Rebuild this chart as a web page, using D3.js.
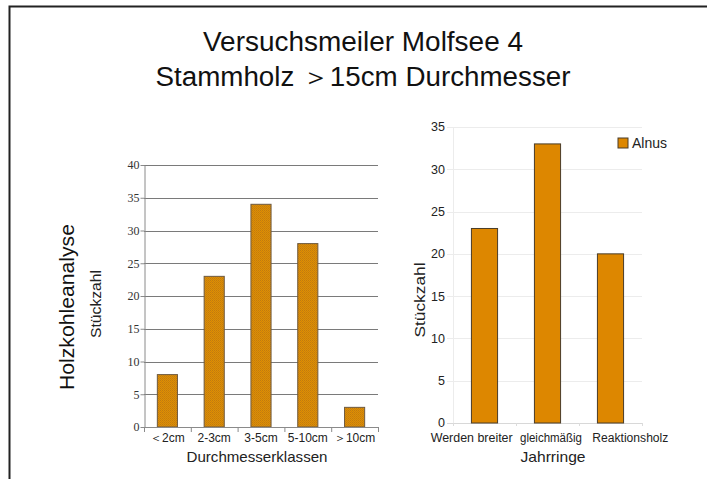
<!DOCTYPE html>
<html>
<head>
<meta charset="utf-8">
<script src="https://cdn.jsdelivr.net/npm/d3@7"></script>
<style>
	body { margin: 0; background: #fff; }
	svg { display: block; }
</style>
</head>
<body>
<div id="chart"></div>
<script>
// Data
const titleLines = ['Versuchsmeiler Molfsee 4', 'Stammholz \uFF1E15cm Durchmesser'];
const diamClasses = ['\uFF1C2cm', '2-3cm', '3-5cm', '5-10cm', '\uFF1E10cm'];
const diamCounts = [8, 23, 34, 28, 3];
const diamTicks = [0, 5, 10, 15, 20, 25, 30, 35, 40];
const ringClasses = ['Werden breiter', 'gleichmäßig', 'Reaktionsholz'];
const ringCounts = [23, 33, 20];
const ringTicks = [0, 5, 10, 15, 20, 25, 30, 35];
const seriesName = 'Alnus';

const width = 707;
const height = 479;
const sans = 'Liberation Sans, Arial, sans-serif';
const serif = 'Liberation Serif, Times New Roman, serif';

const svg = d3.select('#chart')
	.append('svg')
	.attr('width', width)
	.attr('height', height);

// squeeze text to the narrow widths of the original
function fit(sel, len) {
	sel.attr('textLength', len).attr('lengthAdjust', 'spacingAndGlyphs');
}

// dithered orange fill used on the left chart
const defs = svg.append('defs');
const pat = defs.append('pattern')
	.attr('id', 'dither')
	.attr('width', 2)
	.attr('height', 2)
	.attr('patternUnits', 'userSpaceOnUse');
pat.append('rect').attr('width', 2).attr('height', 2).attr('fill', '#e09000');
pat.append('rect').attr('width', 1).attr('height', 1).attr('fill', '#c07a10');
pat.append('rect').attr('x', 1).attr('y', 1).attr('width', 1).attr('height', 1).attr('fill', '#c88010');

// frame (left and top edge only)
svg.append('path')
	.attr('d', 'M9.5,479 V6.5 H707')
	.attr('fill', 'none')
	.attr('stroke', '#222')
	.attr('stroke-width', 2);

// titles
const titleWidths = [320, 415];
svg.selectAll('text.title')
	.data(titleLines)
	.enter()
	.append('text')
	.attr('class', 'title')
	.attr('x', 363)
	.attr('y', (d, i) => 51 + i * 35)
	.attr('text-anchor', 'middle')
	.style('font-family', sans)
	.style('font-size', '27px')
	.attr('fill', '#111')
	.attr('textLength', (d, i) => titleWidths[i])
	.attr('lengthAdjust', 'spacingAndGlyphs')
	.text((d) => d);

svg.append('text')
	.attr('transform', 'translate(74,307) rotate(-90)')
	.attr('text-anchor', 'middle')
	.style('font-family', sans)
	.style('font-size', '21px')
	.attr('fill', '#111')
	.call(fit, 166)
	.text('Holzkohleanalyse');

// ---------- left chart ----------
const x1 = d3.scaleBand()
	.domain(diamClasses)
	.range([144, 378])
	.paddingInner(0.57)
	.paddingOuter(0.285);
const y1 = d3.scaleLinear().domain([0, 40]).range([427, 165]);

const g1 = svg.append('g');

g1.selectAll('line.grid')
	.data(diamTicks.filter((d) => d > 0))
	.enter()
	.append('line')
	.attr('x1', 144)
	.attr('x2', 378)
	.attr('y1', (d) => Math.round(y1(d)) + 0.5)
	.attr('y2', (d) => Math.round(y1(d)) + 0.5)
	.attr('stroke', '#7a7a7a')
	.attr('stroke-width', 1);

const yAxis1 = g1.append('g')
	.attr('transform', 'translate(144.5,0)')
	.call(d3.axisLeft(y1).tickValues(diamTicks).tickSize(4).tickSizeOuter(0));
yAxis1.select('.domain').attr('stroke', '#8a8a8a');
yAxis1.selectAll('.tick line').attr('stroke', '#8a8a8a');
yAxis1.selectAll('text')
	.style('font-family', serif)
	.style('font-size', '12px')
	.attr('fill', '#333')
	.attr('x', -5);

g1.selectAll('rect.bar')
	.data(diamCounts)
	.enter()
	.append('rect')
	.attr('x', (d, i) => x1(diamClasses[i]))
	.attr('y', (d) => y1(d))
	.attr('width', x1.bandwidth())
	.attr('height', (d) => y1(0) - y1(d))
	.attr('fill', 'url(#dither)')
	.attr('stroke', '#6e5a40')
	.attr('stroke-width', 1);

// x axis baseline with ticks at band edges
g1.append('line')
	.attr('x1', 144).attr('x2', 378)
	.attr('y1', 427.5).attr('y2', 427.5)
	.attr('stroke', '#8a8a8a');
g1.selectAll('line.xtick')
	.data(d3.range(diamClasses.length + 1))
	.enter()
	.append('line')
	.attr('x1', (d) => 144.5 + d * x1.step())
	.attr('x2', (d) => 144.5 + d * x1.step())
	.attr('y1', 427)
	.attr('y2', 432)
	.attr('stroke', '#8a8a8a');

g1.selectAll('text.cat')
	.data(diamClasses)
	.enter()
	.append('text')
	.attr('x', (d) => x1(d) + x1.bandwidth() / 2)
	.attr('y', 442)
	.attr('text-anchor', 'middle')
	.style('font-family', sans)
	.style('font-size', '12px')
	.attr('fill', '#222')
	.text((d) => d);

g1.append('text')
	.attr('x', 257)
	.attr('y', 462)
	.attr('text-anchor', 'middle')
	.style('font-family', sans)
	.style('font-size', '14.5px')
	.attr('fill', '#222')
	.call(fit, 141)
	.text('Durchmesserklassen');

g1.append('text')
	.attr('transform', 'translate(101,304) rotate(-90)')
	.attr('text-anchor', 'middle')
	.style('font-family', sans)
	.style('font-size', '14px')
	.attr('fill', '#222')
	.call(fit, 68)
	.text('Stückzahl');

// ---------- right chart ----------
const x2 = d3.scaleBand()
	.domain(ringClasses)
	.range([453, 642])
	.paddingInner(0.585)
	.paddingOuter(0.2925);
// category labels are spread wider than the bars
const x2lab = d3.scaleBand()
	.domain(ringClasses)
	.range([432, 670]);
const ringLabelWidths = [82, 62, 76];
const y2 = d3.scaleLinear().domain([0, 35]).range([423, 127]);

const g2 = svg.append('g');

g2.selectAll('line.grid')
	.data(ringTicks)
	.enter()
	.append('line')
	.attr('x1', 447)
	.attr('x2', 642)
	.attr('y1', (d) => Math.round(y2(d)) + 0.5)
	.attr('y2', (d) => Math.round(y2(d)) + 0.5)
	.attr('stroke', (d) => (d === 0 ? '#d8d8d8' : '#ececec'))
	.attr('stroke-width', 1);

g2.append('line')
	.attr('x1', 453.5).attr('x2', 453.5)
	.attr('y1', 127).attr('y2', 423)
	.attr('stroke', '#ececec');

g2.selectAll('line.xtick')
	.data(d3.range(ringClasses.length + 1))
	.enter()
	.append('line')
	.attr('x1', (d) => 453.5 + d * x2.step())
	.attr('x2', (d) => 453.5 + d * x2.step())
	.attr('y1', 423)
	.attr('y2', 426)
	.attr('stroke', '#dcdcdc');

g2.selectAll('text.ytick')
	.data(ringTicks)
	.enter()
	.append('text')
	.attr('x', 445)
	.attr('y', (d) => y2(d))
	.attr('dy', '0.35em')
	.attr('text-anchor', 'end')
	.style('font-family', sans)
	.style('font-size', '12.5px')
	.attr('fill', '#222')
	.text((d) => d);

g2.selectAll('rect.bar')
	.data(ringCounts)
	.enter()
	.append('rect')
	.attr('x', (d, i) => x2(ringClasses[i]))
	.attr('y', (d) => y2(d))
	.attr('width', x2.bandwidth())
	.attr('height', (d) => y2(0) - y2(d))
	.attr('fill', '#dd8700')
	.attr('stroke', '#4a3c28')
	.attr('stroke-width', 1);

g2.selectAll('text.cat')
	.data(ringClasses)
	.enter()
	.append('text')
	.attr('x', (d) => x2lab(d) + x2lab.bandwidth() / 2)
	.attr('y', 442)
	.attr('text-anchor', 'middle')
	.style('font-family', sans)
	.style('font-size', '12px')
	.attr('fill', '#222')
	.attr('textLength', (d, i) => ringLabelWidths[i])
	.attr('lengthAdjust', 'spacingAndGlyphs')
	.text((d) => d);

g2.append('text')
	.attr('x', 553)
	.attr('y', 462)
	.attr('text-anchor', 'middle')
	.style('font-family', sans)
	.style('font-size', '14.5px')
	.attr('fill', '#222')
	.call(fit, 65)
	.text('Jahrringe');

g2.append('text')
	.attr('transform', 'translate(425,300) rotate(-90)')
	.attr('text-anchor', 'middle')
	.style('font-family', sans)
	.style('font-size', '15px')
	.attr('fill', '#222')
	.call(fit, 75)
	.text('Stückzahl');

// legend
const legend = g2.append('g').attr('transform', 'translate(618,138)');
legend.append('rect')
	.attr('width', 10)
	.attr('height', 10)
	.attr('fill', '#dd8700')
	.attr('stroke', '#4a3c28');
legend.append('text')
	.attr('x', 14)
	.attr('y', 10)
	.style('font-family', sans)
	.style('font-size', '14px')
	.attr('fill', '#222')
	.text(seriesName);
</script>
</body>
</html>
